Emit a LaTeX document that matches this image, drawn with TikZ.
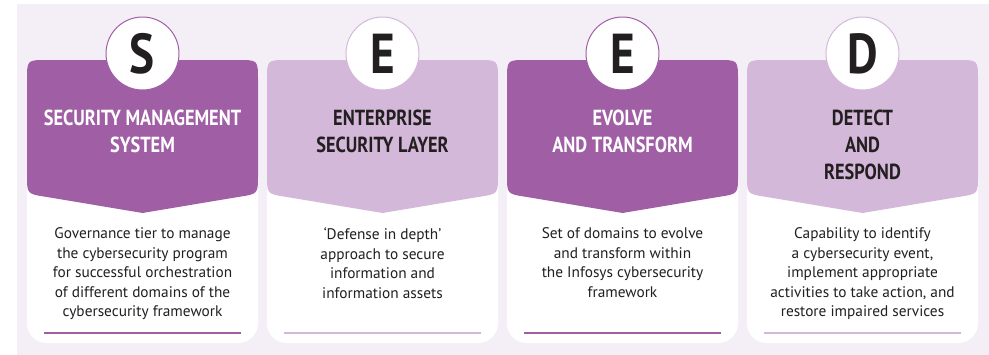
\documentclass[tikz,border=0pt]{standalone}
\usepackage{fontspec}
\setmainfont{PT Sans}
\newfontfamily\headfont[FakeStretch=0.84,UprightFont=* Bold]{PT Sans}

\definecolor{plum}{HTML}{A05EA5}
\definecolor{lilac}{HTML}{D4B8D9}
\definecolor{mist}{HTML}{F4EFF6}
\definecolor{ink}{HTML}{231F20}

\begin{document}
\begin{tikzpicture}[x=0.025cm,y=-0.025cm,
    title/.style={font=\headfont\fontsize{15.5}{19.2}\selectfont, align=center, anchor=north, inner sep=0pt},
    letter/.style={font=\headfont\fontsize{40}{40}\selectfont, text=ink, inner sep=0pt},
    body/.style={font=\fontsize{10.9}{13.9}\selectfont, text=ink, align=center, anchor=north, inner sep=0pt}]
    \useasboundingbox (0,0) rectangle (989,355);
    \fill[mist] (17,4) rectangle (989,355);
    \foreach \x/\col in {27/plum,267/lilac,507/plum,747/lilac}{
        % white card
        \fill[white,rounded corners=14pt] (\x,60) rectangle (\x+231,343);
        % header tab with a point at the bottom
        \fill[\col] (\x+115.5,213) -- (\x+20,197) .. controls (\x,194) .. (\x,176) -- (\x,80)
            .. controls (\x,60) .. (\x+20,60) -- (\x+211,60) .. controls (\x+231,60) .. (\x+231,80)
            -- (\x+231,176) .. controls (\x+231,194) .. (\x+211,197) -- cycle;
        % badge
        \draw[\col,line width=0.7pt,fill=white] (\x+115.5,53.5) circle (36.5);
        % rule under the text
        \draw[\col,line width=1.3pt] (\x+17,333) -- (\x+214,333);
    }

    \node[letter] (s) at (142.5,54) {S};
    \node[letter] (e1) at (382.5,54) {E};
    \node[letter] (e2) at (622.5,54) {E};
    \node[letter] (d) at (862.5,54) {D};

    \node[title,text=white] (sms) at (142.5,110) {SECURITY MANAGEMENT\\SYSTEM};
    \node[title,text=ink] (esl) at (382.5,110) {ENTERPRISE\\SECURITY LAYER};
    \node[title,text=white] (eat) at (622.5,110) {EVOLVE\\AND TRANSFORM};
    \node[title,text=ink] (dar) at (862.5,110) {DETECT\\AND\\RESPOND};

    \node[body] (smstext) at (142.5,227.5) {Governance tier to manage\\the cybersecurity program\\for successful orchestration\\of different domains of the\\cybersecurity framework};
    \node[body] (esltext) at (382.5,227.5) {‘Defense in depth’\\approach to secure\\information and\\information assets};
    \node[body] (eattext) at (622.5,227.5) {Set of domains to evolve\\and transform within\\the Infosys cybersecurity\\framework};
    \node[body] (dartext) at (862.5,227.5) {Capability to identify\\a cybersecurity event,\\implement appropriate\\activities to take action, and\\restore impaired services};
\end{tikzpicture}
\end{document}
